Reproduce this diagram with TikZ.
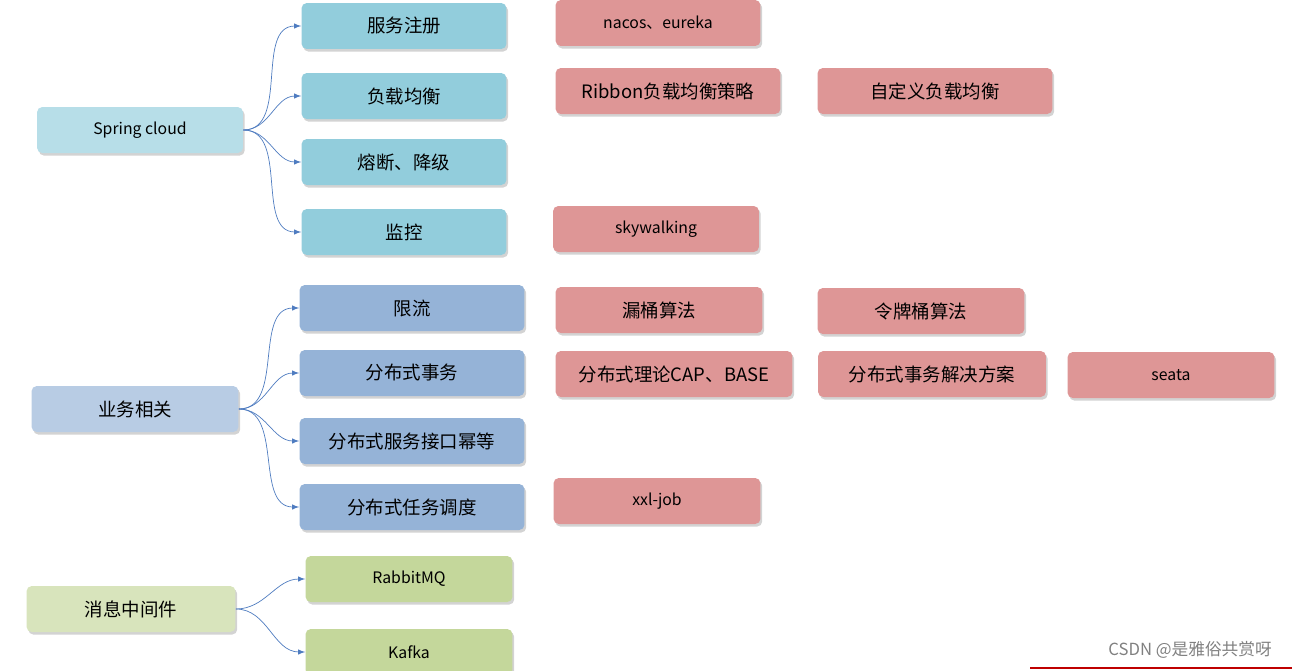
\documentclass[tikz,border=0pt]{standalone}
\usepackage{fontspec}
\setmainfont{Noto Sans CJK SC}
\usetikzlibrary{arrows,shadows}
\definecolor{teal1}{HTML}{92CDDC}
\definecolor{teal0}{HTML}{B7DEE8}
\definecolor{slate1}{HTML}{95B3D7}
\definecolor{slate0}{HTML}{B8CCE4}
\definecolor{rose}{HTML}{DE9696}
\definecolor{olive1}{HTML}{C4D79B}
\definecolor{olive0}{HTML}{D8E4BC}
\definecolor{arrowblue}{HTML}{4F7CC0}
\tikzset{box/.style={rectangle, rounded corners=3pt, minimum height=0.92cm, text centered, font=\fontsize{10.5}{12}\selectfont, drop shadow={shadow xshift=1pt, shadow yshift=-1.5pt, opacity=0.35}}}
\tikzset{line/.style={draw, arrowblue, thin, -latex, out=0, in=180}}

\begin{document}
\begin{tikzpicture}[x=0.02cm, y=-0.02cm]
    \useasboundingbox (0,0) rectangle (1292,670);

    \node [box, fill=teal0, minimum width=4.12cm, font=\fontsize{9}{11}\selectfont] (spring) at (140,130) {Spring cloud};
    \node [box, fill=teal1, minimum width=4.1cm] (register) at (404,26) {服务注册};
    \node [box, fill=teal1, minimum width=4.1cm] (balance) at (404,96) {负载均衡};
    \node [box, fill=teal1, minimum width=4.1cm] (fuse) at (404,162) {熔断、降级};
    \node [box, fill=teal1, minimum width=4.1cm] (monitor) at (404,232) {监控};

    \node [box, fill=rose, minimum width=4.1cm, font=\fontsize{9}{11}\selectfont] (nacos) at (658,23) {nacos、eureka};
    \node [box, fill=rose, minimum width=4.5cm] (ribbon) at (668,91) {Ribbon负载均衡策略};
    \node [box, fill=rose, minimum width=4.7cm] (custom) at (935,91) {自定义负载均衡};
    \node [box, fill=rose, minimum width=4.12cm, font=\fontsize{9}{11}\selectfont] (sky) at (656,229) {skywalking};

    \node [box, fill=slate0, minimum width=4.14cm] (biz) at (135,409) {业务相关};
    \node [box, fill=slate1, minimum width=4.5cm] (limit) at (412,308) {限流};
    \node [box, fill=slate1, minimum width=4.5cm] (trans) at (412,373) {分布式事务};
    \node [box, fill=slate1, minimum width=4.5cm] (idem) at (412,441) {分布式服务接口幂等};
    \node [box, fill=slate1, minimum width=4.5cm] (sched) at (412,507) {分布式任务调度};

    \node [box, fill=rose, minimum width=4.14cm] (leaky) at (659,310) {漏桶算法};
    \node [box, fill=rose, minimum width=4.14cm] (token) at (921,311) {令牌桶算法};
    \node [box, fill=rose, minimum width=4.74cm] (cap) at (674,374) {分布式理论CAP、BASE};
    \node [box, fill=rose, minimum width=4.56cm] (plan) at (932,374) {分布式事务解决方案};
    \node [box, fill=rose, minimum width=4.14cm, font=\fontsize{9}{11}\selectfont] (seata) at (1171,375) {seata};
    \node [box, fill=rose, minimum width=4.14cm, font=\fontsize{9}{11}\selectfont] (xxl) at (657,501) {xxl-job};

    \node [box, fill=olive0, minimum width=4.18cm] (mq) at (131,609) {消息中间件};
    \node [box, fill=olive1, minimum width=4.14cm, font=\fontsize{9}{11}\selectfont] (rabbit) at (409,579) {RabbitMQ};
    \node [box, fill=olive1, minimum width=4.14cm, font=\fontsize{9}{11}\selectfont] (kafka) at (409,652) {Kafka};

    \foreach \t in {register, balance, fuse, monitor}
        \path [line] (spring.east) to (\t.west);
    \foreach \t in {limit, trans, idem, sched}
        \path [line] (biz.east) to (\t.west);
    \foreach \t in {rabbit, kafka}
        \path [line] (mq.east) to (\t.west);

    \node [anchor=east, text=gray, font=\fontsize{9.5}{11}\selectfont] (mark) at (1278,650) {CSDN @是雅俗共赏呀};
    \draw [red!75!black, line width=1pt] (1030,668) -- (1292,668);
\end{tikzpicture}
\end{document}
